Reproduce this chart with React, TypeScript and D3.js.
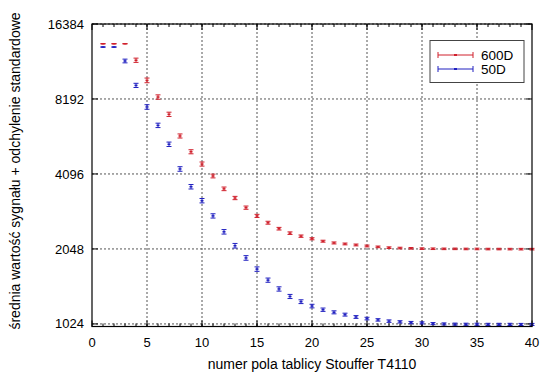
import * as d3 from 'd3';

const fields = d3.range(1, 41);

const red600 = [
  13650, 13650, 13650, 11720, 9730, 8340, 7110, 5820, 5030, 4490,
  4020, 3570, 3280, 3000, 2780, 2610, 2470, 2370, 2305, 2250,
  2200, 2165, 2145, 2125, 2105, 2088, 2072, 2065, 2060, 2054,
  2052, 2050, 2050, 2048, 2048, 2046, 2046, 2045, 2044, 2044,
];
const red600Err = [
  20, 20, 20, 230, 210, 170, 140, 110, 95, 85,
  70, 60, 50, 45, 40, 35, 30, 28, 25, 22,
  20, 20, 18, 18, 18, 16, 16, 16, 15, 15,
  15, 15, 15, 15, 15, 15, 15, 15, 15, 15,
];

const blue50 = [
  13240, 13240, 11640, 9290, 7610, 6420, 5390, 4290, 3640, 3200,
  2780, 2400, 2110, 1885, 1700, 1535, 1415, 1320, 1258, 1208,
  1168, 1140, 1116, 1092, 1076, 1063, 1051, 1044, 1037, 1034,
  1027, 1024, 1022, 1021, 1021, 1020, 1020, 1020, 1019, 1019,
];
const blue50Err = [
  20, 20, 200, 180, 160, 130, 110, 90, 75, 65,
  55, 50, 45, 40, 35, 30, 28, 25, 22, 20,
  18, 16, 15, 14, 13, 12, 12, 11, 11, 10,
  10, 10, 10, 10, 10, 10, 10, 10, 10, 10,
];

const xTicks = [0, 5, 10, 15, 20, 25, 30, 35, 40];
const yTicks = [1024, 2048, 4096, 8192, 16384];

const series = [
  { name: '600D', values: red600, errors: red600Err, color: '#d0202c' },
  { name: '50D', values: blue50, errors: blue50Err, color: '#2020c0' },
];

export default function App() {
  const width = 550;
  const height = 389;
  const margin = { top: 24, right: 18, bottom: 62.5, left: 92 };
  const innerW = width - margin.left - margin.right;
  const innerH = height - margin.top - margin.bottom;

  const x = d3.scaleLinear().domain([0, 40]).range([0, innerW]);
  const y = d3.scaleLog().base(2).domain([1000, 16384]).range([innerH, 0]);

  const font = 'Liberation Sans, Arial, sans-serif';
  const grid = '#555';

  return (
    <svg
      width={width}
      height={height}
      style={{ position: 'absolute', left: 0, top: 0, background: '#fff' }}
      fontFamily={font}
    >
      <g transform={`translate(${margin.left},${margin.top})`}>
        {/* grid */}
        {xTicks.slice(1, -1).map((t) => (
          <line
            key={'gx' + t}
            x1={x(t)}
            x2={x(t)}
            y1={0}
            y2={innerH}
            stroke={grid}
            strokeWidth={1}
            strokeDasharray="2 2"
          />
        ))}
        {yTicks.map((t) => (
          <line
            key={'gy' + t}
            x1={0}
            x2={innerW}
            y1={y(t)}
            y2={y(t)}
            stroke={grid}
            strokeWidth={1}
            strokeDasharray="2 2"
          />
        ))}
        {/* minor x ticks */}
        {d3.range(1, 40).map((t) => (
          <g key={'mx' + t}>
            <line x1={x(t)} x2={x(t)} y1={innerH} y2={innerH - 3} stroke="#000" />
            <line x1={x(t)} x2={x(t)} y1={0} y2={3} stroke="#000" />
          </g>
        ))}
        {xTicks.map((t) => (
          <g key={'tx' + t}>
            <line x1={x(t)} x2={x(t)} y1={innerH} y2={innerH - 6} stroke="#000" />
            <line x1={x(t)} x2={x(t)} y1={0} y2={6} stroke="#000" />
            <text
              x={x(t)}
              y={innerH + 20}
              textAnchor="middle"
              fontSize={13}
              fill="#000"
            >
              {t}
            </text>
          </g>
        ))}
        {yTicks.map((t) => (
          <g key={'ty' + t}>
            <line x1={0} x2={6} y1={y(t)} y2={y(t)} stroke="#000" />
            <line x1={innerW} x2={innerW - 6} y1={y(t)} y2={y(t)} stroke="#000" />
            <text
              x={-8}
              y={y(t)}
              dy="0.35em"
              textAnchor="end"
              fontSize={13}
              fill="#000"
            >
              {t}
            </text>
          </g>
        ))}

        {/* data with error bars */}
        {series.map((s) =>
          s.values.map((v, i) => {
            const cx = x(fields[i]);
            const lo = y(v - s.errors[i]);
            const hi = y(v + s.errors[i]);
            const cy = y(v);
            return (
              <g key={s.name + i} stroke={s.color} strokeWidth={1}>
                <line x1={cx} x2={cx} y1={lo} y2={hi} />
                <line x1={cx - 2.5} x2={cx + 2.5} y1={lo} y2={lo} />
                <line x1={cx - 2.5} x2={cx + 2.5} y1={hi} y2={hi} />
                <line x1={cx - 1.5} x2={cx + 1.5} y1={cy} y2={cy} strokeWidth={1.5} />
              </g>
            );
          })
        )}

        {/* border */}
        <rect
          x={0}
          y={0}
          width={innerW}
          height={innerH}
          fill="none"
          stroke="#000"
          strokeWidth={1.2}
        />

        {/* legend */}
        <g transform={`translate(${338},${16.5})`}>
          <rect x={0} y={0} width={94} height={42} fill="#fff" stroke="#444" strokeWidth={1} />
          {series.map((s, i) => (
            <g key={'lg' + s.name} transform={`translate(0,${14.5 + i * 14})`}>
              <g stroke={s.color} strokeWidth={1}>
                <line x1={8} x2={43} y1={0} y2={0} />
                <line x1={8} x2={8} y1={-3} y2={3} />
                <line x1={43} x2={43} y1={-3} y2={3} />
                <line x1={24} x2={27} y1={0} y2={0} strokeWidth={2} />
              </g>
              <text x={51} y={0} dy="0.35em" fontSize={13.5} fill="#000">
                {s.name}
              </text>
            </g>
          ))}
        </g>
      </g>

      <text
        x={margin.left + innerW / 2}
        y={369}
        textAnchor="middle"
        fontSize={14}
        fill="#000"
      >
        numer pola tablicy Stouffer T4110
      </text>
      <text
        transform={`translate(20,171) rotate(-90)`}
        textAnchor="middle"
        fontSize={14}
        fill="#000"
      >
        średnia wartość sygnału + odchylenie standardowe
      </text>
    </svg>
  );
}
